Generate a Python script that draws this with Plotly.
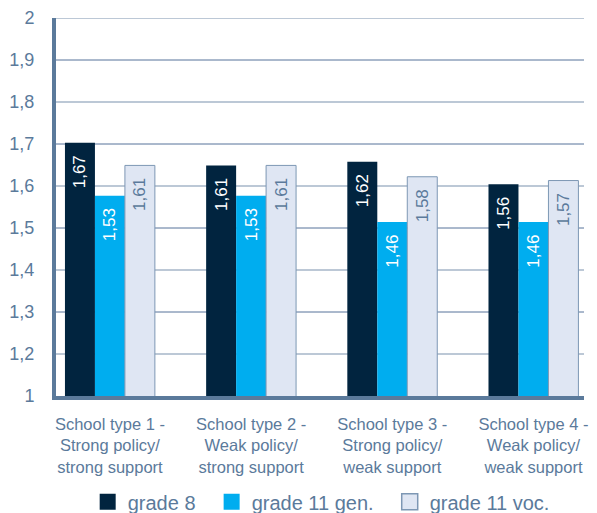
import plotly.graph_objects as go

categories = [
    "School type 1 -<br>Strong policy/<br>strong support",
    "School type 2 -<br>Weak policy/<br>strong support",
    "School type 3 -<br>Strong policy/<br>weak support",
    "School type 4 -<br>Weak policy/<br>weak support",
]
series_names = ["grade 8", "grade 11 gen.", "grade 11 voc."]
grade8 = [1.67, 1.61, 1.62, 1.56]
grade11_gen = [1.53, 1.53, 1.46, 1.46]
grade11_voc = [1.61, 1.61, 1.58, 1.57]

# y axis: 10 evenly spaced ticks between 1 and 2 (labels as in the original)
y_tick_text = ["1", "1,2", "1,3", "1,4", "1,5", "1,6", "1,7", "1,8", "1,9", "2"]
y_tick_vals = [1 + k / 9 for k in range(len(y_tick_text))]

colors = ["#01243f", "#00adef", "#dfe6f3"]
text_colors = ["#ffffff", "#ffffff", "#5b7a9b"]
line_colors = ["#01243f", "#00adef", "#7d97b4"]
axis_color = "#5b7a9b"
font_family = "Liberation Sans, Arial, sans-serif"
NB = "\u00a0"

x_pos = list(range(len(categories)))

fig = go.Figure()
for name, vals, c, tc, lc in zip(series_names, [grade8, grade11_gen, grade11_voc],
                                 colors, text_colors, line_colors):
    fig.add_trace(go.Bar(
        x=x_pos, y=vals, name=name,
        marker=dict(color=c, line=dict(color=lc, width=1 if c == colors[2] else 0)),
        text=[f"{v:.2f}".replace(".", ",") + NB * 2 for v in vals],
        textposition="inside", insidetextanchor="end", textangle=-90,
        insidetextfont=dict(color=tc, size=17, family=font_family),
        constraintext="none", showlegend=False, cliponaxis=False,
    ))
    # legend entry with a larger square swatch
    fig.add_trace(go.Scatter(
        x=[None], y=[None], mode="markers", name=name + NB * 2,
        marker=dict(symbol="square", size=19, color=c,
                    line=dict(color=lc, width=1.5 if c == colors[2] else 0)),
        showlegend=True,
    ))

# alternating gridlines
shapes = []
for i, yv in enumerate(y_tick_vals[1:]):
    dark = (i % 2 == 1)  # 1,2 light; 1,3 dark; ... 2 light
    shapes.append(dict(
        type="line", xref="paper", yref="y", x0=0, x1=1, y0=yv, y1=yv,
        line=dict(color="#56739a" if dark else "#a6b6c9", width=1 if dark else 1.5),
        layer="below",
    ))

# the page body has an 8px margin, so the figure is 8px smaller than the window
fig.update_layout(
    width=589, height=505,
    margin=dict(l=48, r=13, t=10, b=117, autoexpand=False),
    paper_bgcolor="white", plot_bgcolor="white",
    barmode="group", bargap=0.363, bargroupgap=0,
    shapes=shapes,
    font=dict(family=font_family, color=axis_color),
    xaxis=dict(
        range=[-0.382, 3.358], tickvals=x_pos, ticktext=categories,
        showgrid=False, zeroline=False, showline=True, linewidth=4,
        linecolor=axis_color, ticks="", tickfont=dict(size=16.5, color=axis_color),
        ticklabelstandoff=10, fixedrange=True, automargin=False,
    ),
    yaxis=dict(
        range=[1, 2], tickvals=y_tick_vals, ticktext=y_tick_text,
        showgrid=False, zeroline=False, showline=True, linewidth=4,
        linecolor=axis_color, ticks="", tickfont=dict(size=18, color=axis_color),
        ticklabelstandoff=14, fixedrange=True, automargin=False,
    ),
    legend=dict(
        orientation="h", x=0.06, xanchor="left", y=-0.28, yanchor="middle",
        font=dict(size=20, color=axis_color), bgcolor="rgba(0,0,0,0)",
        itemsizing="trace",
    ),
)

fig.write_html("out.html")
